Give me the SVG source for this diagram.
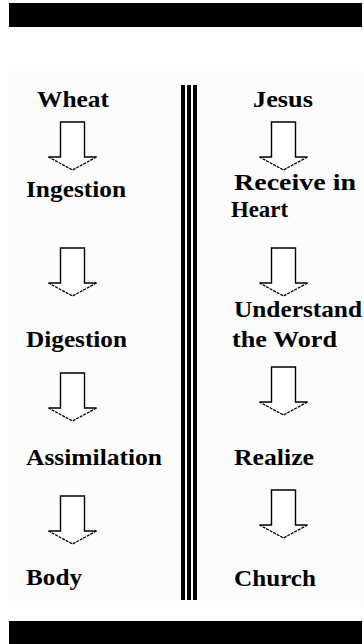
<svg xmlns="http://www.w3.org/2000/svg" width="364" height="644" viewBox="0 0 364 644">
  <style>
    .lbl { font-family: "Liberation Serif", "Times New Roman", serif; font-weight: bold; font-size: 24px; fill: #000; }
    .solid { fill: none; stroke: #000; stroke-width: 1.4; }
    .dash { fill: none; stroke: #000; stroke-width: 1.3; stroke-dasharray: 3 1; }
    .bar { fill: #000; }
    .stripe { fill: #000; }
  </style>
  <defs>
    <g id="arrow">
      <polygon points="-12,0 12,0 12,35 24,35 0,48 -24,35 -12,35" fill="#fff" stroke="none"/>
      <path class="solid" d="M-24,35 H-12 V0 H12 V35 H24"/>
      <path class="dash" d="M24,35 L0,48 L-24,35"/>
    </g>
  </defs>
  <rect x="0" y="0" width="364" height="644" fill="#fff"/>
  <rect x="8" y="70" width="355" height="535" fill="#fcfcfc"/>
  <g id="top-bar"><rect class="bar" x="9" y="3" width="353" height="24"/></g>
  <g id="bottom-bar"><rect class="bar" x="9" y="621" width="353" height="23"/></g>
  <g id="divider">
    <rect class="stripe" x="181" y="85" width="4" height="515"/>
    <rect class="stripe" x="187" y="85" width="4" height="515"/>
    <rect class="stripe" x="193" y="85" width="4" height="515"/>
  </g>
  <g id="connectors">
    <use href="#arrow" transform="translate(72.5,122)"/>
    <use href="#arrow" transform="translate(72.5,248)"/>
    <use href="#arrow" transform="translate(72.5,373)"/>
    <use href="#arrow" transform="translate(72.5,496)"/>
    <use href="#arrow" transform="translate(283.5,122)"/>
    <use href="#arrow" transform="translate(283.5,248)"/>
    <use href="#arrow" transform="translate(283.5,367)"/>
    <use href="#arrow" transform="translate(283.5,490)"/>
  </g>
  <g id="wheat"><text class="lbl" x="37" y="107" textLength="72" lengthAdjust="spacingAndGlyphs">Wheat</text></g>
  <g id="ingestion"><text class="lbl" x="26" y="197" textLength="100" lengthAdjust="spacingAndGlyphs">Ingestion</text></g>
  <g id="digestion"><text class="lbl" x="26" y="347" textLength="101" lengthAdjust="spacingAndGlyphs">Digestion</text></g>
  <g id="assimilation"><text class="lbl" x="26" y="465" textLength="136" lengthAdjust="spacingAndGlyphs">Assimilation</text></g>
  <g id="body"><text class="lbl" x="26" y="585" textLength="56" lengthAdjust="spacingAndGlyphs">Body</text></g>
  <g id="jesus"><text class="lbl" x="253" y="107" textLength="60" lengthAdjust="spacingAndGlyphs">Jesus</text></g>
  <g id="receive"><text class="lbl" x="234" y="190" textLength="122" lengthAdjust="spacingAndGlyphs">Receive in</text><text class="lbl" x="231" y="217" textLength="57" lengthAdjust="spacingAndGlyphs">Heart</text></g>
  <g id="understand"><text class="lbl" x="234" y="317" textLength="128" lengthAdjust="spacingAndGlyphs">Understand</text><text class="lbl" x="232" y="347" textLength="105" lengthAdjust="spacingAndGlyphs">the Word</text></g>
  <g id="realize"><text class="lbl" x="234" y="465" textLength="80" lengthAdjust="spacingAndGlyphs">Realize</text></g>
  <g id="church"><text class="lbl" x="234" y="586" textLength="82" lengthAdjust="spacingAndGlyphs">Church</text></g>
</svg>
